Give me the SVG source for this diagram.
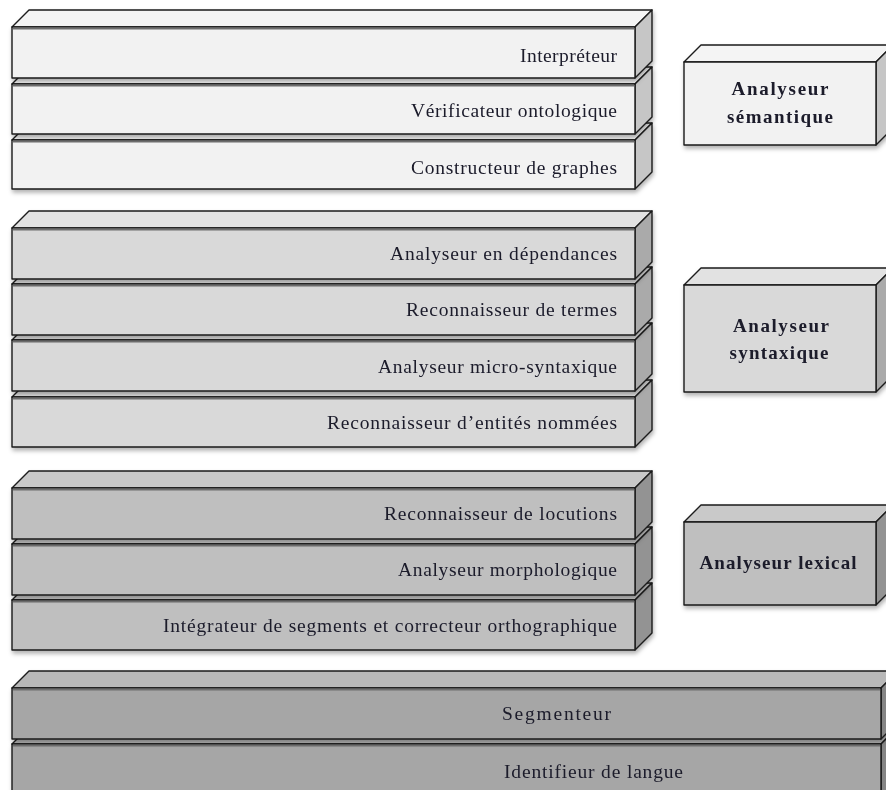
<svg xmlns="http://www.w3.org/2000/svg" width="886" height="790" viewBox="0 0 886 790">
<defs>
<filter id="sh" x="-5%" y="-10%" width="110%" height="130%">
<feDropShadow dx="1" dy="3" stdDeviation="2" flood-color="#000" flood-opacity="0.3"/>
</filter>
<style>
.box polygon,.box rect{stroke:#1a1a1a;stroke-width:1.4;stroke-linejoin:round}
.box{filter:url(#sh)}
.hl{stroke:#6e6e6e;stroke-width:2}
.l1 .t{fill:#f4f4f4}.l1 .f{fill:#f2f2f2}.l1 .r{fill:#c6c6c6}
.l2 .t{fill:#e2e2e2}.l2 .f{fill:#d9d9d9}.l2 .r{fill:#aaaaaa}
.l3 .t{fill:#c9c9c9}.l3 .f{fill:#bfbfbf}.l3 .r{fill:#939393}
.l4 .t{fill:#b8b8b8}.l4 .f{fill:#a6a6a6}.l4 .r{fill:#858585}
.lbl{font-family:"Liberation Serif","Times New Roman",serif;font-size:19.5px;fill:#1a1a2a;text-anchor:end}
.lbl4{font-family:"Liberation Serif","Times New Roman",serif;font-size:19.5px;fill:#1a1a2a}
.ttl{font-family:"Liberation Serif","Times New Roman",serif;font-size:19px;font-weight:bold;fill:#1a1a2a;text-anchor:middle}
</style>
</defs>
<rect width="886" height="790" fill="#ffffff"/>

<!-- Group 1 : semantic -->
<g id="constructeur-graphes" class="box l1">
<polygon class="t" points="12,140 29,123 652,123 635,140"/>
<polygon class="r" points="635,140 652,123 652,172 635,189"/>
<rect class="f" x="12" y="140" width="623" height="49"/>
<line class="hl" x1="13" y1="141.5" x2="634" y2="141.5"/>
<text class="lbl" x="617" y="174" textLength="206" lengthAdjust="spacing">Constructeur de graphes</text>
</g>
<g id="verificateur-ontologique" class="box l1">
<polygon class="t" points="12,84 29,67 652,67 635,84"/>
<polygon class="r" points="635,84 652,67 652,117 635,134"/>
<rect class="f" x="12" y="84" width="623" height="50"/>
<line class="hl" x1="13" y1="85.5" x2="634" y2="85.5"/>
<text class="lbl" x="617" y="117" textLength="206" lengthAdjust="spacing">Vérificateur ontologique</text>
</g>
<g id="interpreteur" class="box l1">
<polygon class="t" points="12,27 29,10 652,10 635,27"/>
<polygon class="r" points="635,27 652,10 652,61 635,78"/>
<rect class="f" x="12" y="27" width="623" height="51"/>
<line class="hl" x1="13" y1="28.5" x2="634" y2="28.5"/>
<text class="lbl" x="617" y="62" textLength="97" lengthAdjust="spacing">Interpréteur</text>
</g>

<!-- Group 2 : syntactic -->
<g id="reconnaisseur-entites" class="box l2">
<polygon class="t" points="12,397 29,380 652,380 635,397"/>
<polygon class="r" points="635,397 652,380 652,430 635,447"/>
<rect class="f" x="12" y="397" width="623" height="50"/>
<line class="hl" x1="13" y1="398.5" x2="634" y2="398.5"/>
<text class="lbl" x="617" y="429" textLength="290" lengthAdjust="spacing">Reconnaisseur d’entités nommées</text>
</g>
<g id="analyseur-micro-syntaxique" class="box l2">
<polygon class="t" points="12,340 29,323 652,323 635,340"/>
<polygon class="r" points="635,340 652,323 652,374 635,391"/>
<rect class="f" x="12" y="340" width="623" height="51"/>
<line class="hl" x1="13" y1="341.5" x2="634" y2="341.5"/>
<text class="lbl" x="617" y="373" textLength="239" lengthAdjust="spacing">Analyseur micro-syntaxique</text>
</g>
<g id="reconnaisseur-termes" class="box l2">
<polygon class="t" points="12,284 29,267 652,267 635,284"/>
<polygon class="r" points="635,284 652,267 652,318 635,335"/>
<rect class="f" x="12" y="284" width="623" height="51"/>
<line class="hl" x1="13" y1="285.5" x2="634" y2="285.5"/>
<text class="lbl" x="617" y="316" textLength="211" lengthAdjust="spacing">Reconnaisseur de termes</text>
</g>
<g id="analyseur-dependances" class="box l2">
<polygon class="t" points="12,228 29,211 652,211 635,228"/>
<polygon class="r" points="635,228 652,211 652,262 635,279"/>
<rect class="f" x="12" y="228" width="623" height="51"/>
<line class="hl" x1="13" y1="229.5" x2="634" y2="229.5"/>
<text class="lbl" x="617" y="260" textLength="227" lengthAdjust="spacing">Analyseur en dépendances</text>
</g>

<!-- Group 3 : lexical -->
<g id="integrateur-segments" class="box l3">
<polygon class="t" points="12,600 29,583 652,583 635,600"/>
<polygon class="r" points="635,600 652,583 652,633 635,650"/>
<rect class="f" x="12" y="600" width="623" height="50"/>
<line class="hl" x1="13" y1="601.5" x2="634" y2="601.5"/>
<text class="lbl" x="617" y="632" textLength="454" lengthAdjust="spacing">Intégrateur de segments et correcteur orthographique</text>
</g>
<g id="analyseur-morphologique" class="box l3">
<polygon class="t" points="12,544 29,527 652,527 635,544"/>
<polygon class="r" points="635,544 652,527 652,578 635,595"/>
<rect class="f" x="12" y="544" width="623" height="51"/>
<line class="hl" x1="13" y1="545.5" x2="634" y2="545.5"/>
<text class="lbl" x="617" y="576" textLength="219" lengthAdjust="spacing">Analyseur morphologique</text>
</g>
<g id="reconnaisseur-locutions" class="box l3">
<polygon class="t" points="12,488 29,471 652,471 635,488"/>
<polygon class="r" points="635,488 652,471 652,522 635,539"/>
<rect class="f" x="12" y="488" width="623" height="51"/>
<line class="hl" x1="13" y1="489.5" x2="634" y2="489.5"/>
<text class="lbl" x="617" y="520" textLength="233" lengthAdjust="spacing">Reconnaisseur de locutions</text>
</g>

<!-- Group 4 : base -->
<g id="identifieur-langue" class="box l4">
<polygon class="t" points="12,744 29,727 898,727 881,744"/>
<polygon class="r" points="881,744 898,727 898,783 881,800"/>
<rect class="f" x="12" y="744" width="869" height="56"/>
<line class="hl" x1="13" y1="745.5" x2="880" y2="745.5"/>
<text class="lbl4" x="504" y="778" textLength="179" lengthAdjust="spacing">Identifieur de langue</text>
</g>
<g id="segmenteur" class="box l4">
<polygon class="t" points="12,688 29,671 898,671 881,688"/>
<polygon class="r" points="881,688 898,671 898,722 881,739"/>
<rect class="f" x="12" y="688" width="869" height="51"/>
<line class="hl" x1="13" y1="689.5" x2="880" y2="689.5"/>
<text class="lbl4" x="502" y="720" textLength="109" lengthAdjust="spacing">Segmenteur</text>
</g>

<!-- Right side labels -->
<g id="analyseur-semantique" class="box l1">
<polygon class="t" points="684,62 701,45 893,45 876,62"/>
<polygon class="r" points="876,62 893,45 893,128 876,145"/>
<rect class="f" x="684" y="62" width="192" height="83"/>
<text class="ttl" x="780" y="95" textLength="97" lengthAdjust="spacing">Analyseur</text>
<text class="ttl" x="780" y="123" textLength="106" lengthAdjust="spacing">sémantique</text>
</g>
<g id="analyseur-syntaxique" class="box l2">
<polygon class="t" points="684,285 701,268 893,268 876,285"/>
<polygon class="r" points="876,285 893,268 893,375 876,392"/>
<rect class="f" x="684" y="285" width="192" height="107"/>
<text class="ttl" x="781" y="332" textLength="96" lengthAdjust="spacing">Analyseur</text>
<text class="ttl" x="779" y="359" textLength="99" lengthAdjust="spacing">syntaxique</text>
</g>
<g id="analyseur-lexical" class="box l3">
<polygon class="t" points="684,522 701,505 893,505 876,522"/>
<polygon class="r" points="876,522 893,505 893,588 876,605"/>
<rect class="f" x="684" y="522" width="192" height="83"/>
<text class="ttl" x="778" y="569" textLength="157" lengthAdjust="spacing">Analyseur lexical</text>
</g>

<g id="connectors"></g>
</svg>
